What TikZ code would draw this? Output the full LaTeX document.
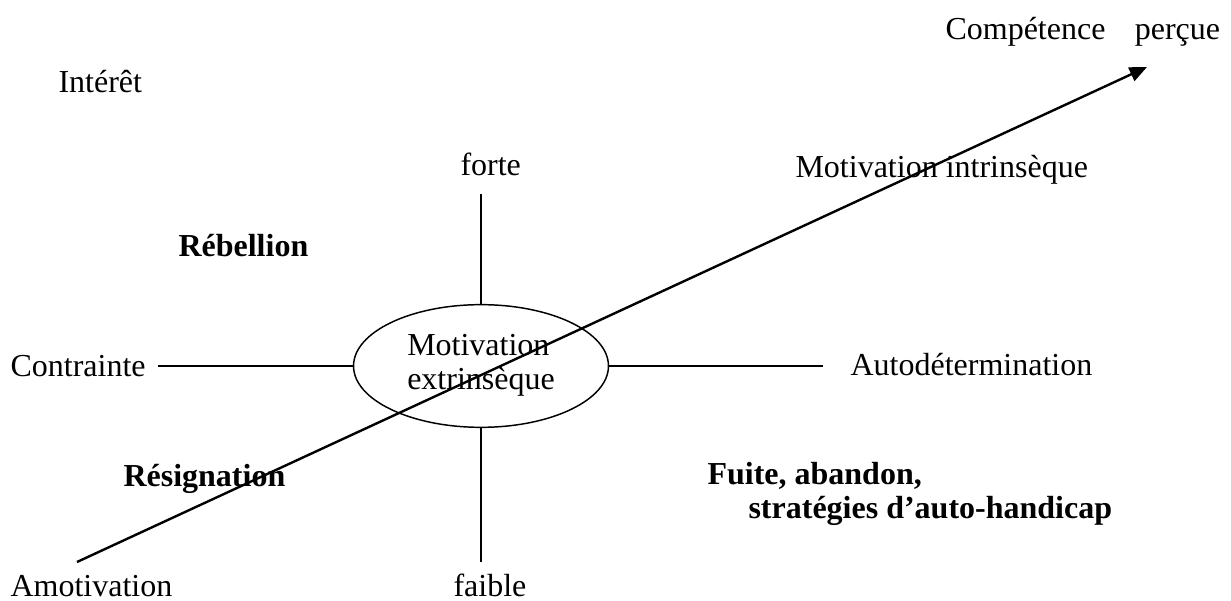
\documentclass[tikz,border=0pt]{standalone}
\usepackage{fontspec}
\setmainfont{Liberation Serif}
\usetikzlibrary{shapes.geometric,arrows.meta}
\tikzset{
  lbl/.style={anchor=base west,inner sep=0pt},
  boldlbl/.style={lbl,font=\fontsize{12}{12.75}\selectfont\bfseries},
  axisline/.style={line width=0.55pt},
}
\begin{document}
\begin{tikzpicture}[x=0.375pt,y=-0.375pt,font=\fontsize{12}{12.75}\selectfont]
\useasboundingbox (0,0) rectangle (1231,601);
% centre
\node[shape=ellipse,draw=black,axisline,minimum width=95.6pt,minimum height=46pt,inner sep=0pt] (extr) at (481,366) {\raisebox{-3.5pt}{\begin{tabular}{@{}l@{}}Motivation\\extrinsèque\end{tabular}}};
% free ends of the axes
\coordinate (forteEnd) at (481,194);
\coordinate (faibleEnd) at (481,562);
\coordinate (contrEnd) at (158,366);
\coordinate (autoEnd) at (823,366);
\coordinate (amotEnd) at (77,562);
\coordinate (compEnd) at (1147,67);

\node[lbl] (comp) at (945,40) {Compétence\hspace{11pt}perçue};
\node[lbl] (interet) at (58,93) {Intérêt};
\node[lbl] (forte) at (460,176) {forte};
\node[lbl] (intr) at (795,178) {Motivation intrinsèque};
\node[boldlbl] (rebel) at (178,257) {Rébellion};
\node[lbl] (contr) at (10,377) {Contrainte};
\node[lbl] (auto) at (850,376) {Autodétermination};
\node[boldlbl] (resig) at (123,487) {Résignation};
\node[boldlbl] (fuite) at (707,485) {Fuite, abandon,};
\node[boldlbl] (strat) at (748,519) {stratégies d’auto-handicap};
\node[lbl] (amot) at (10,596) {Amotivation};
\node[lbl] (faible) at (453,596) {faible};

\path [axisline] (extr) edge (forteEnd);
\path [axisline] (extr) edge (faibleEnd);
\path [axisline] (extr) edge (contrEnd);
\path [axisline] (extr) edge (autoEnd);
\draw [line width=0.9pt,-{Triangle[length=6.5pt,width=5.5pt]}] (amotEnd) -- (compEnd);
\end{tikzpicture}
\end{document}
